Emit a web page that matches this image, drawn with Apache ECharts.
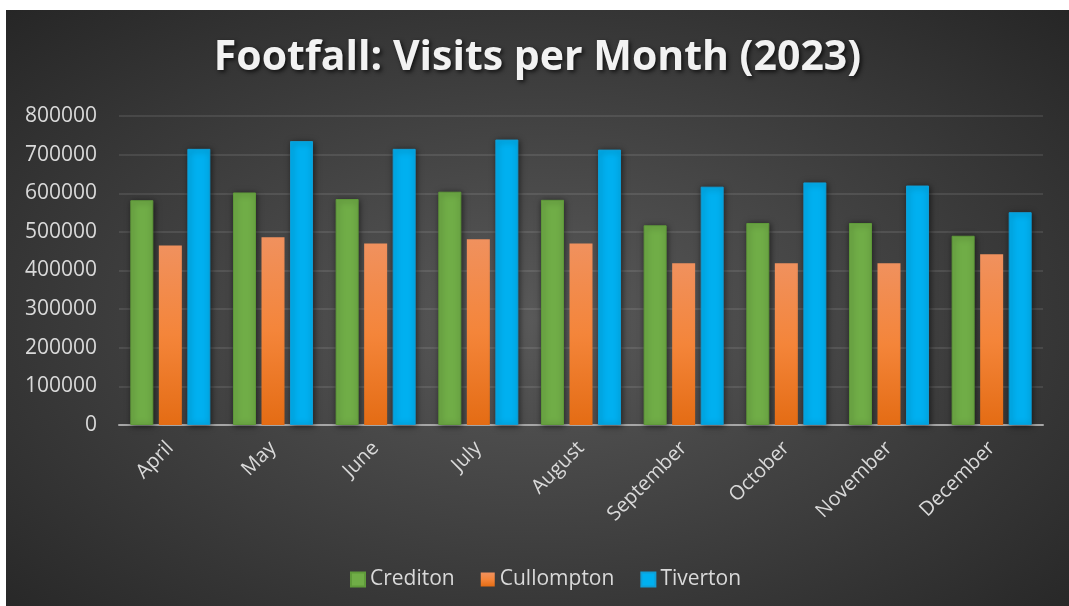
<!DOCTYPE html>
<html>
<head>
<meta charset="utf-8">
<title>Footfall</title>
<script src="https://cdn.jsdelivr.net/npm/echarts@6/dist/echarts.min.js"></script>
<style>
  html, body { margin: 0; padding: 0; background: #ffffff; }
  #footfall {
    position: absolute;
    left: 6px;
    top: 10px;
    width: 1063px;
    height: 596px;
    background: radial-gradient(ellipse at 50% 52%, #595959 0%, #454545 40%, #262626 100%);
  }
</style>
</head>
<body>
<div id="footfall"></div>
<script>
  // data
  const months = ['April', 'May', 'June', 'July', 'August', 'September', 'October', 'November', 'December'];
  const crediton = [582000, 602000, 585000, 604000, 583000, 517000, 523000, 523000, 490000];
  const cullompton = [465000, 486000, 470000, 481000, 470000, 419000, 419000, 419000, 442000];
  const tiverton = [715000, 735000, 715000, 739000, 713000, 617000, 628000, 620000, 551000];

  const font = '"Open Sans", "Noto Sans", sans-serif';
  const barShadow = { shadowBlur: 6, shadowColor: 'rgba(0,0,0,0.55)', shadowOffsetX: 1, shadowOffsetY: 1 };

  const chart = echarts.init(document.getElementById('footfall'));

  const option = {
    backgroundColor: 'transparent',
    title: {
      text: 'Footfall: Visits per Month (2023)',
      left: 'center',
      top: 23,
      textStyle: {
        color: '#f2f2f2',
        fontFamily: font,
        fontWeight: 'bold',
        fontSize: 41,
        textShadowColor: 'rgba(0,0,0,0.7)',
        textShadowBlur: 4,
        textShadowOffsetX: 2,
        textShadowOffsetY: 2
      }
    },
    legend: {
      top: 554,
      left: 339,
      itemWidth: 14,
      itemHeight: 14,
      itemGap: 26,
      icon: 'rect',
      selectedMode: false,
      textStyle: { color: '#d9d9d9', fontFamily: font, fontSize: 21 }
    },
    grid: {
      left: 113,
      right: 26,
      top: 106,
      bottom: 181,
      containLabel: false
    },
    xAxis: {
      type: 'category',
      data: months,
      axisTick: { show: false },
      axisLine: { lineStyle: { color: '#a6a6a6', width: 2 } },
      axisLabel: {
        color: '#d9d9d9',
        fontFamily: font,
        fontSize: 20,
        rotate: 45,
        margin: 20,
        interval: 0
      }
    },
    yAxis: {
      type: 'value',
      min: 0,
      max: 800000,
      interval: 100000,
      axisLine: { show: false },
      axisTick: { show: false },
      splitLine: { lineStyle: { color: 'rgba(255,255,255,0.13)', width: 1.5 } },
      axisLabel: {
        color: '#d9d9d9',
        fontFamily: font,
        fontSize: 21,
        margin: 22,
        formatter: function (v) { return String(v); }
      }
    },
    series: [
      {
        name: 'Crediton',
        type: 'bar',
        data: crediton,
        barWidth: 23,
        barGap: '24%',
        itemStyle: Object.assign({ color: '#70ad47', borderColor: '#5f9a3a', borderWidth: 1 }, barShadow)
      },
      {
        name: 'Cullompton',
        type: 'bar',
        data: cullompton,
        barWidth: 23,
        barGap: '24%',
        itemStyle: Object.assign({
          color: new echarts.graphic.LinearGradient(0, 0, 0, 1, [
            { offset: 0, color: '#f0915e' },
            { offset: 0.5, color: '#f4853a' },
            { offset: 1, color: '#e46c14' }
          ]),
          borderWidth: 0
        }, barShadow)
      },
      {
        name: 'Tiverton',
        type: 'bar',
        data: tiverton,
        barWidth: 23,
        barGap: '24%',
        itemStyle: Object.assign({ color: '#00b0f0', borderColor: '#109ed6', borderWidth: 1 }, barShadow)
      }
    ]
  };

  chart.setOption(option);
  window.onresize = function () {
    chart.resize();
  };
</script>
</body>
</html>
